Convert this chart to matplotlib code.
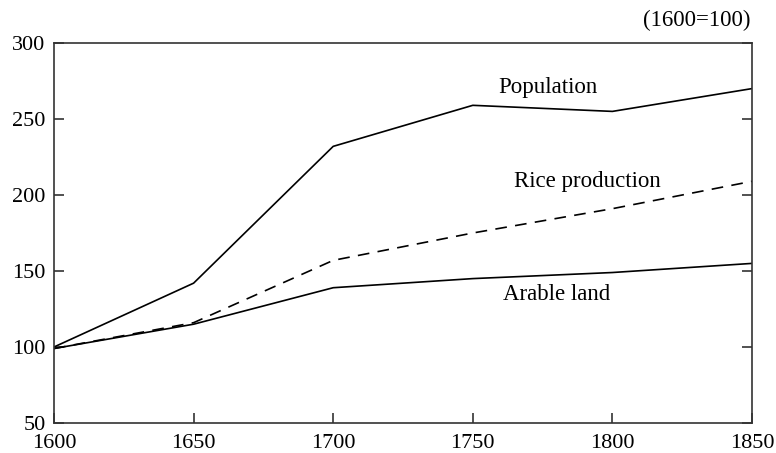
import matplotlib
matplotlib.use("Agg")
import matplotlib.pyplot as plt

years = [1600, 1650, 1700, 1750, 1800, 1850]
population = [100, 142, 232, 259, 255, 270]
rice_production = [99, 116, 157, 175, 191, 209]
arable_land = [99, 115, 139, 145, 149, 155]
yticks = [50, 100, 150, 200, 250, 300]

plt.rcParams['font.family'] = ['Liberation Serif', 'DejaVu Serif']

fig = plt.figure(figsize=(7.76, 4.53), dpi=100)
ax = fig.add_axes([54/776, 1-423/453, (752-54)/776, (423-43)/453])

ax.plot(years, population, color='black', lw=1.2)
ax.plot(years, rice_production, color='black', lw=1.2, dashes=(7, 5))
ax.plot(years, arable_land, color='black', lw=1.2)

ax.set_xlim(1600, 1850)
ax.set_ylim(50, 300)
ax.set_xticks(years)
ax.set_yticks(yticks)
ax.tick_params(axis='both', direction='in', length=7, width=1.2, color='#333333',
               labelsize=16, right=True)
ax.tick_params(axis='y', pad=6)
ax.tick_params(axis='x', pad=8)
for s in ax.spines.values():
    s.set_linewidth(1.2)
    s.set_color('#333333')

ax.text(1777, 267, 'Population', fontsize=16.5, ha='center', va='baseline')
ax.text(1791, 205.3, 'Rice production', fontsize=16.5, ha='center', va='baseline')
ax.text(1780, 131, 'Arable land', fontsize=16.5, ha='center', va='baseline')
fig.text(750/776, 1-20/453, '(1600=100)', fontsize=16.5, ha='right', va='center')

fig.savefig('out.png', dpi=100)
